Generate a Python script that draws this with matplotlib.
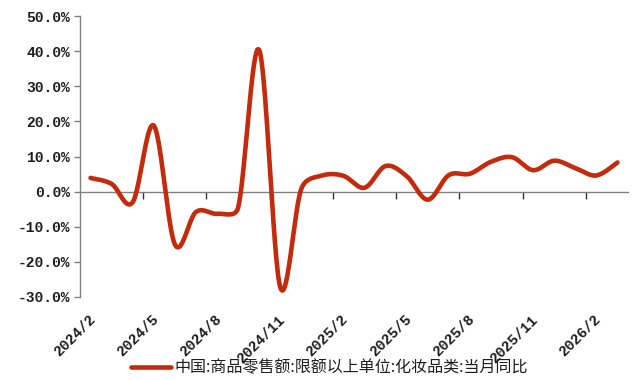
import numpy as np
import matplotlib
matplotlib.use("Agg")
import matplotlib.pyplot as plt
from matplotlib.transforms import blended_transform_factory
from matplotlib.ticker import FuncFormatter

# Monthly data, 2024/2 .. 2026/3
months = ["2024/2", "2024/3", "2024/4", "2024/5", "2024/6", "2024/7", "2024/8",
          "2024/9", "2024/10", "2024/11", "2024/12", "2025/1", "2025/2", "2025/3",
          "2025/4", "2025/5", "2025/6", "2025/7", "2025/8", "2025/9", "2025/10",
          "2025/11", "2025/12", "2026/1", "2026/2", "2026/3"]
yoy = [3.9, 2.2, -3.0, 18.8, -15.0, -5.8, -6.3, -4.6, 40.3, -27.2, 0.8, 4.6, 4.5,
       1.1, 7.3, 4.4, -2.3, 4.7, 5.1, 8.5, 9.8, 6.1, 8.8, 6.7, 4.6, 8.3]
series_name = "中国:商品零售额:限额以上单位:化妆品类:当月同比"
label_step = 3
y_ticks = [-30, -20, -10, 0, 10, 20, 30, 40, 50]

LINE_COLOR = "#C42A0C"
AXIS_COLOR = "#808080"
TEXT_COLOR = "#1e1e1e"
MONO = ["Liberation Mono", "DejaVu Sans Mono"]
CJK = ["Noto Sans CJK SC", "DejaVu Sans"]


def smooth_curve(ax, xs, ys, n=50, cap=0.5):
    """Catmull-Rom style Bezier smoothing through every point, computed in
    display space; each control arm is capped to a share of its segment."""
    fig = ax.figure
    fig.canvas.draw()
    pts = ax.transData.transform(np.column_stack([xs, ys]).astype(float))
    m = len(pts)
    t = np.linspace(0, 1, n, endpoint=False)[:, None]
    seg_len = np.hypot(*np.diff(pts, axis=0).T)
    c_out = np.zeros_like(pts)
    c_in = np.zeros_like(pts)
    for i in range(m):
        prev = pts[i - 1] if i > 0 else pts[i]
        nxt = pts[i + 1] if i + 1 < m else pts[i]
        arm = (nxt - prev) / 6.0
        arm_len = np.hypot(*arm)
        l_in = seg_len[i - 1] if i > 0 else 0.0
        l_out = seg_len[i] if i + 1 < m else 0.0
        s_in = min(1.0, cap * l_in / arm_len) if arm_len > 0 else 0.0
        s_out = min(1.0, cap * l_out / arm_len) if arm_len > 0 else 0.0
        c_out[i] = pts[i] + arm * s_out
        c_in[i] = pts[i] - arm * s_in
    out = []
    for i in range(m - 1):
        p0, p1, p2, p3 = pts[i], c_out[i], c_in[i + 1], pts[i + 1]
        seg = ((1 - t) ** 3) * p0 + 3 * ((1 - t) ** 2) * t * p1 \
            + 3 * (1 - t) * t ** 2 * p2 + t ** 3 * p3
        out.append(seg)
    out.append(pts[-1][None, :])
    c = ax.transData.inverted().transform(np.vstack(out))
    return c[:, 0], c[:, 1]


fig = plt.figure(figsize=(6.33, 3.80), dpi=100)
ax = fig.add_axes([80 / 633, 1 - 297 / 380, (628 - 80) / 633, (297 - 16) / 380])

x = np.arange(len(months))
ax.set_xlim(-0.5, len(months) - 0.5)
ax.set_ylim(y_ticks[0], y_ticks[-1])

sx, sy = smooth_curve(ax, x, yoy)
line, = ax.plot(sx, sy, color=LINE_COLOR, lw=3.3, solid_capstyle="round",
                solid_joinstyle="round", label=series_name, zorder=3)

# spines
for s in ["top", "right"]:
    ax.spines[s].set_visible(False)
ax.spines["left"].set_color(AXIS_COLOR)
ax.spines["left"].set_linewidth(1.0)
ax.spines["bottom"].set_position(("data", 0))
ax.spines["bottom"].set_color(AXIS_COLOR)
ax.spines["bottom"].set_linewidth(1.0)
ax.spines["bottom"].set_zorder(2)

# y axis
ax.set_yticks(y_ticks)
ax.yaxis.set_major_formatter(FuncFormatter(lambda v, p: f"{v:.1f}%"))
ax.tick_params(axis="y", direction="out", length=4, width=1, color=AXIS_COLOR,
               pad=3, labelcolor=TEXT_COLOR)
for lab in ax.get_yticklabels():
    lab.set_fontfamily(MONO)
    lab.set_fontweight("bold")
    lab.set_fontsize(10.5)

# x axis: tick marks between categories, labels at category centres
boundaries = np.arange(label_step - 0.5, len(months) - 0.5, label_step)
ax.set_xticks(boundaries)
ax.set_xticklabels([])
ax.tick_params(axis="x", direction="out", length=5, width=1, color="#333333")

trans = blended_transform_factory(ax.transData, ax.transAxes)
for i in range(0, len(months), label_step):
    ax.text(i + 0.35, -0.055, months[i], transform=trans, rotation=45,
            ha="right", va="top", fontsize=10.5, fontweight="bold",
            family=MONO, color=TEXT_COLOR, rotation_mode="default")

fig.legend(handles=[line], labels=[series_name], loc="center",
           bbox_to_anchor=(0.52, 0.032), frameon=False, handlelength=2.5,
           handletextpad=0.2, prop={"family": CJK, "size": 11.5},
           labelcolor=TEXT_COLOR)

fig.savefig("out.png", dpi=100)
